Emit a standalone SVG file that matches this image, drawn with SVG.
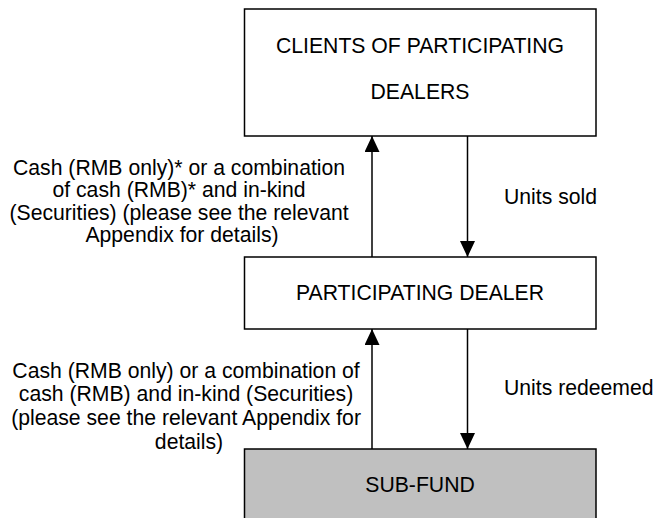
<svg xmlns="http://www.w3.org/2000/svg" width="656" height="518" viewBox="0 0 656 518">
<style>
.box{stroke:#000;stroke-width:1.5}
.t{font-family:"Liberation Sans",Arial,sans-serif;font-size:21.2px;fill:#000;text-anchor:middle}
.l{font-family:"Liberation Sans",Arial,sans-serif;font-size:21.2px;fill:#000}
.c{stroke:#000;stroke-width:1.5;fill:none}
</style>
<defs>
<marker id="ah" viewBox="0 0 16 15" refX="16" refY="7.5" markerWidth="16" markerHeight="15" markerUnits="userSpaceOnUse" orient="auto">
<path d="M0,0 L16,7.5 L0,15 Z" fill="#000"/>
</marker>
</defs>
<rect width="656" height="518" fill="#fff"/>
<g id="clients">
<rect class="box" x="244.5" y="9" width="351.5" height="127" fill="#fff"/>
<text class="t" x="420" y="53">CLIENTS OF PARTICIPATING</text>
<text class="t" x="420" y="99">DEALERS</text>
</g>
<g id="dealer">
<rect class="box" x="244.5" y="257" width="351.5" height="72" fill="#fff"/>
<text class="t" x="420" y="299.5">PARTICIPATING DEALER</text>
</g>
<g id="subfund">
<rect class="box" x="244.5" y="449" width="351.5" height="75" fill="#c0c0c0"/>
<text class="t" x="420" y="492">SUB-FUND</text>
</g>
<g id="connectors">
<line class="c" x1="467.5" y1="136" x2="467.5" y2="257" marker-end="url(#ah)"/>
<line class="c" x1="372" y1="257" x2="372" y2="136" marker-end="url(#ah)"/>
<line class="c" x1="467.5" y1="329" x2="467.5" y2="449" marker-end="url(#ah)"/>
<line class="c" x1="372" y1="449" x2="372" y2="329" marker-end="url(#ah)"/>
</g>
<g id="labels">
<text class="l" x="504" y="204">Units sold</text>
<text class="l" x="504" y="395">Units redeemed</text>
<text class="l" text-anchor="middle">
<tspan x="182" y="175">Cash (RMB only)* or a combination</tspan>
<tspan x="182" y="197">of cash (RMB)* and in-kind</tspan>
<tspan x="182" y="219.5">(Securities) (please see the relevant</tspan>
<tspan x="182" y="241.5">Appendix for details)</tspan>
</text>
<text class="l" text-anchor="middle">
<tspan x="189" y="377.5">Cash (RMB only) or a combination of</tspan>
<tspan x="189" y="401">cash (RMB) and in-kind (Securities)</tspan>
<tspan x="189" y="425">(please see the relevant Appendix for</tspan>
<tspan x="189" y="448.5">details)</tspan>
</text>
</g>
</svg>
